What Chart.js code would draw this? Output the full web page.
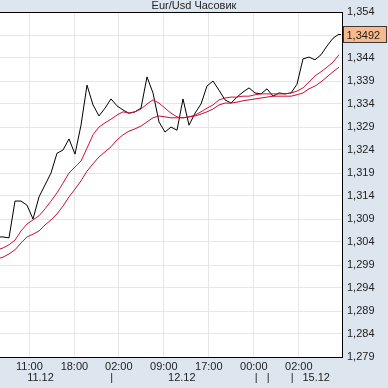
<!DOCTYPE html>
<html>
<head>
<meta charset="utf-8">
<script src="https://cdn.jsdelivr.net/npm/chart.js@4.4.1/dist/chart.umd.min.js"></script>
<style>
  html, body { margin: 0; padding: 0; background: #dde6ef; }
  #wrap { width: 388px; height: 388px; }
</style>
</head>
<body>
<div id="wrap"><canvas id="chart" width="388" height="388"></canvas></div>
<script>
// Часовик EUR/USD: цена закрытия и две скользящие
const closePrices = [1.3051, 1.3051, 1.3049, 1.3129, 1.3129, 1.3120, 1.3090, 1.3138, 1.3164, 1.3190,
  1.3233, 1.3240, 1.3264, 1.3231, 1.3294, 1.3381, 1.3338, 1.3314, 1.3331, 1.3351,
  1.3336, 1.3327, 1.3320, 1.3323, 1.3331, 1.3399, 1.3364, 1.3301, 1.3279, 1.3290,
  1.3283, 1.3351, 1.3294, 1.3320, 1.3340, 1.3379, 1.3390, 1.3370, 1.3349, 1.3342,
  1.3355, 1.3366, 1.3375, 1.3364, 1.3362, 1.3373, 1.3357, 1.3364, 1.3362, 1.3364,
  1.3383, 1.3438, 1.3442, 1.3436, 1.3447, 1.3466, 1.3483, 1.3492];
const maFast = [1.3023, 1.3027, 1.3034, 1.3044, 1.3064, 1.3079, 1.3088, 1.3097, 1.3112, 1.3129,
  1.3147, 1.3168, 1.3190, 1.3203, 1.3216, 1.3244, 1.3273, 1.3290, 1.3299, 1.3307,
  1.3316, 1.3323, 1.3320, 1.3323, 1.3329, 1.3340, 1.3349, 1.3342, 1.3331, 1.3320,
  1.3312, 1.3310, 1.3312, 1.3316, 1.3323, 1.3331, 1.3338, 1.3349, 1.3353, 1.3355,
  1.3355, 1.3357, 1.3357, 1.3360, 1.3362, 1.3362, 1.3362, 1.3362, 1.3362, 1.3364,
  1.3368, 1.3375, 1.3388, 1.3401, 1.3410, 1.3420, 1.3431, 1.3447];
const maSlow = [1.3003, 1.3007, 1.3014, 1.3023, 1.3038, 1.3051, 1.3057, 1.3064, 1.3077, 1.3088,
  1.3101, 1.3118, 1.3138, 1.3155, 1.3173, 1.3194, 1.3210, 1.3225, 1.3236, 1.3247,
  1.3262, 1.3273, 1.3281, 1.3286, 1.3292, 1.3301, 1.3310, 1.3314, 1.3312, 1.3310,
  1.3310, 1.3310, 1.3312, 1.3314, 1.3318, 1.3323, 1.3329, 1.3338, 1.3342, 1.3342,
  1.3344, 1.3347, 1.3349, 1.3351, 1.3353, 1.3355, 1.3357, 1.3357, 1.3357, 1.3357,
  1.3360, 1.3364, 1.3373, 1.3379, 1.3388, 1.3399, 1.3410, 1.3420];

// подписи оси времени (номер бара) и дат
const hourTicks = [4.4, 11.9, 19.3, 26.8, 34.3, 41.8, 49.3];
const hourLabels = ['11:00', '18:00', '02:00', '09:00', '17:00', '00:00', '02:00'];
const dateTicks = [6.25, 18.1, 29.8, 42.2, 44.2, 48.2, 52.2];
const dateLabels = ['11.12', '|', '12.12', '|', '|', '|', '15.12'];
const priceTicks = [1.279, 1.284, 1.289, 1.294, 1.299, 1.304, 1.309, 1.314, 1.319,
  1.324, 1.329, 1.334, 1.339, 1.344, 1.349, 1.354];

const FONT = '"Liberation Sans", Arial, sans-serif';
const toPts = arr => arr.map((v, i) => ({ x: i - 1, y: v }));
const comma = (v, d) => v.toFixed(d).replace('.', ',');

// фон и рамка
const framePlugin = {
  id: 'frame',
  beforeDraw(chart) {
    const { ctx, chartArea: a } = chart;
    ctx.save();
    ctx.fillStyle = '#dde6ef';
    ctx.fillRect(0, 0, chart.width, chart.height);
    ctx.fillStyle = '#ffffff';
    ctx.fillRect(a.left, a.top, a.right - a.left, a.bottom - a.top);
    ctx.restore();
  },
  afterDraw(chart) {
    const { ctx, chartArea: a } = chart;
    ctx.save();
    ctx.strokeStyle = '#000';
    ctx.lineWidth = 1;
    ctx.beginPath();
    ctx.moveTo(a.left, a.top + 0.5);
    ctx.lineTo(a.right, a.top + 0.5);
    ctx.stroke();
    ctx.restore();
  }
};

// метка последней цены справа
const lastPricePlugin = {
  id: 'lastPrice',
  afterDraw(chart) {
    const { ctx, chartArea: a } = chart;
    const last = closePrices[closePrices.length - 1];
    const y = Math.round(chart.scales.y.getPixelForValue(last)) + 0.5;
    const x0 = chart.scales.x.getPixelForValue(closePrices.length - 2);
    ctx.save();
    ctx.strokeStyle = '#000';
    ctx.setLineDash([2, 2]);
    ctx.beginPath();
    ctx.moveTo(x0, y);
    ctx.lineTo(a.right + 1, y);
    ctx.stroke();
    ctx.setLineDash([]);
    const bx = a.right + 1.5, bw = 43, bh = 16;
    ctx.fillStyle = '#f9b98a';
    ctx.fillRect(bx, y - bh / 2, bw, bh);
    ctx.strokeStyle = '#3a3a3a';
    ctx.strokeRect(bx, y - bh / 2, bw, bh);
    ctx.fillStyle = '#222';
    ctx.font = '11px ' + FONT;
    ctx.textBaseline = 'middle';
    ctx.textAlign = 'left';
    ctx.fillText(comma(last, 4), bx + 3, y + 1);
    ctx.restore();
  }
};

new Chart(document.getElementById('chart'), {
  type: 'line',
  data: {
    datasets: [
      { label: 'MA fast', data: toPts(maFast), borderColor: '#d0103a', borderWidth: 1 },
      { label: 'MA slow', data: toPts(maSlow), borderColor: '#c21030', borderWidth: 1 },
      { label: 'Eur/Usd', data: toPts(closePrices), borderColor: '#000000', borderWidth: 1 }
    ]
  },
  options: {
    responsive: false,
    animation: false,
    layout: { padding: 0 },
    elements: { point: { radius: 0 }, line: { tension: 0 } },
    plugins: {
      legend: { display: false },
      tooltip: { enabled: false },
      title: {
        display: true,
        text: 'Eur/Usd Часовик',
        color: '#222',
        font: { family: FONT, size: 11, weight: 'normal', lineHeight: 1 },
        padding: { top: 0, bottom: 1 }
      }
    },
    scales: {
      x: {
        type: 'linear',
        position: 'bottom',
        min: -0.5,
        max: 56.5,
        afterBuildTicks: s => { s.ticks = hourTicks.map(v => ({ value: v })); },
        afterFit: s => { s.height = 14; },
        ticks: {
          autoSkip: false, maxRotation: 0, padding: 3, color: '#222',
          font: { family: FONT, size: 11 },
          callback: (v, i) => hourLabels[i]
        },
        grid: { color: '#e6e6e6', drawTicks: false },
        border: { color: '#000' }
      },
      x2: {
        type: 'linear',
        position: 'bottom',
        min: -0.5,
        max: 56.5,
        afterBuildTicks: s => { s.ticks = dateTicks.map(v => ({ value: v })); },
        afterFit: s => { s.height = 17; },
        ticks: {
          autoSkip: false, maxRotation: 0, padding: 0, color: '#222',
          font: { family: FONT, size: 11 },
          callback: (v, i) => dateLabels[i]
        },
        grid: { display: false, drawTicks: false },
        border: { display: false }
      },
      y: {
        position: 'right',
        min: 1.279,
        max: 1.354,
        afterBuildTicks: s => { s.ticks = priceTicks.map(v => ({ value: v })); },
        afterFit: s => { s.width = 46; },
        ticks: {
          padding: 5, color: '#222',
          font: { family: FONT, size: 11 },
          callback: v => comma(v, 3)
        },
        grid: { color: '#e6e6e6', drawTicks: false },
        border: { color: '#000' }
      }
    }
  },
  plugins: [framePlugin, lastPricePlugin]
});
</script>
</body>
</html>
